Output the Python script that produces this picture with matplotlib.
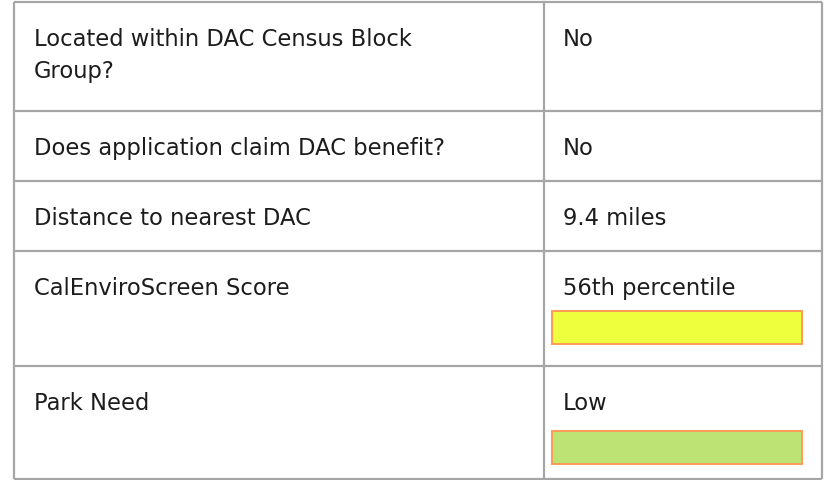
import matplotlib
matplotlib.use("Agg")
import matplotlib.pyplot as plt
from matplotlib.patches import Rectangle

# ---- data ----
labels = [
    "Located within DAC Census Block\nGroup?",
    "Does application claim DAC benefit?",
    "Distance to nearest DAC",
    "CalEnviroScreen Score",
    "Park Need",
]
values = ["No", "No", "9.4 miles", "56th percentile", "Low"]
indicator_colors = [None, None, None, "#EEFF3E", "#BDE374"]

# ---- layout (pixels) ----
W, H = 827, 481
row_edges = [3, 112, 182, 252, 367, 480]
col_edges = [14, 544, 822]
bar_offsets = [0, 0, 0, 60, 65]
line_color = "#A6A6A6"
text_color = "#1C1C1C"
fs = 16.3
line_step = 32

fig = plt.figure(figsize=(W / 100, H / 100), dpi=100)
ax = fig.add_axes([0, 0, 1, 1])
ax.set_xlim(0, W)
ax.set_ylim(H, 0)
ax.axis("off")

# grid lines
for y in row_edges:
    ax.plot([col_edges[0], col_edges[-1]], [y, y], color=line_color, lw=1.6,
            solid_capstyle="butt")
for x in col_edges:
    ax.plot([x, x], [row_edges[0], row_edges[-1]], color=line_color, lw=1.6,
            solid_capstyle="butt")

for i, (lab, val, col) in enumerate(zip(labels, values, indicator_colors)):
    top = row_edges[i]
    base = top + 43
    for k, part in enumerate(lab.split("\n")):
        ax.text(col_edges[0] + 20, base + k * line_step, part, fontsize=fs,
                color=text_color, va="baseline", ha="left",
                family="DejaVu Sans")
    ax.text(col_edges[1] + 19, base, val, fontsize=fs, color=text_color,
            va="baseline", ha="left", family="DejaVu Sans")
    if col is not None:
        ax.add_patch(Rectangle((col_edges[1] + 8, top + bar_offsets[i]), 250, 33,
                               facecolor=col, edgecolor="#FF9A57", lw=1.4))

fig.savefig("out.png", dpi=100)
